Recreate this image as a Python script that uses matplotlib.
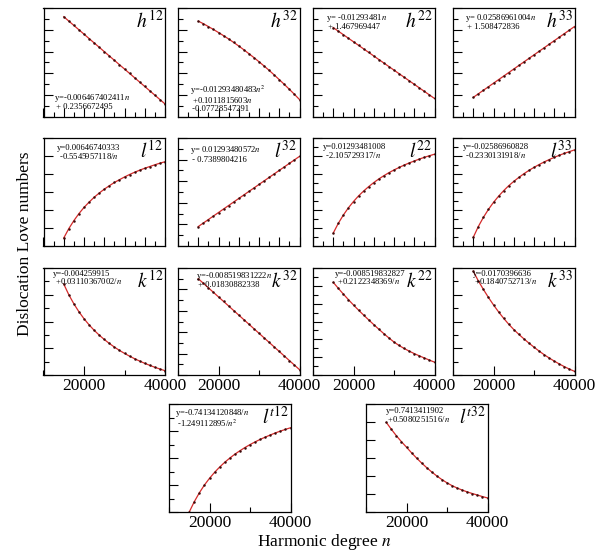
import matplotlib
matplotlib.use('Agg')
import matplotlib.pyplot as plt
from matplotlib.ticker import MultipleLocator, NullFormatter, NullLocator

plt.rcParams['font.family'] = ['Liberation Serif', 'DejaVu Serif']
plt.rcParams['mathtext.fontset'] = 'stix'

# harmonic degree of the sampled points
n_deg = [15000, 16250, 17500, 18750, 20000, 21250, 22500, 23750, 25000, 26250,
         27500, 28750, 30000, 31250, 32500, 33750, 35000, 36250, 37500, 38750, 40000]

# values (no y scale shown, so relative to each panel height)
h12 = [0.92, 0.88, 0.84, 0.80, 0.76, 0.72, 0.68, 0.64, 0.60, 0.56, 0.52,
       0.48, 0.44, 0.40, 0.36, 0.32, 0.28, 0.24, 0.20, 0.16, 0.12]
h32 = [0.880, 0.856, 0.830, 0.803, 0.775, 0.746, 0.716, 0.684, 0.651, 0.617, 0.581,
       0.545, 0.507, 0.468, 0.428, 0.386, 0.343, 0.299, 0.254, 0.208, 0.160]
h22 = [0.82, 0.7875, 0.755, 0.7225, 0.69, 0.6575, 0.625, 0.5925, 0.56, 0.5275, 0.495,
       0.4625, 0.43, 0.3975, 0.365, 0.3325, 0.30, 0.2675, 0.235, 0.2025, 0.17]
h33 = [0.18, 0.2125, 0.245, 0.2775, 0.31, 0.3425, 0.375, 0.4075, 0.44, 0.4725, 0.505,
       0.5375, 0.57, 0.6025, 0.635, 0.6675, 0.70, 0.7325, 0.765, 0.7975, 0.83]

l12 = [0.074, 0.161, 0.235, 0.300, 0.357, 0.406, 0.451, 0.490, 0.526, 0.558, 0.588,
       0.614, 0.639, 0.662, 0.683, 0.702, 0.720, 0.736, 0.752, 0.767, 0.780]
l32 = [0.18, 0.2125, 0.245, 0.2775, 0.31, 0.3425, 0.375, 0.4075, 0.44, 0.4725, 0.505,
       0.5375, 0.57, 0.6025, 0.635, 0.6675, 0.70, 0.7325, 0.765, 0.7975, 0.83]
l22 = [0.120, 0.210, 0.287, 0.354, 0.412, 0.464, 0.509, 0.550, 0.587, 0.621, 0.651,
       0.679, 0.704, 0.727, 0.749, 0.769, 0.787, 0.805, 0.821, 0.836, 0.850]
l33 = [0.080, 0.180, 0.265, 0.339, 0.404, 0.461, 0.512, 0.558, 0.598, 0.635, 0.669,
       0.700, 0.728, 0.754, 0.778, 0.800, 0.821, 0.840, 0.858, 0.874, 0.890]

k12 = [0.850, 0.750, 0.665, 0.591, 0.526, 0.469, 0.418, 0.373, 0.332, 0.295, 0.261,
       0.230, 0.202, 0.176, 0.152, 0.130, 0.109, 0.090, 0.072, 0.056, 0.040]
k32 = [0.90, 0.8575, 0.815, 0.7725, 0.73, 0.6875, 0.645, 0.6025, 0.56, 0.5175, 0.475,
       0.4325, 0.39, 0.3475, 0.305, 0.2625, 0.22, 0.1775, 0.135, 0.0925, 0.05]
k22 = [0.866, 0.810, 0.756, 0.704, 0.654, 0.606, 0.560, 0.515, 0.471, 0.428, 0.386,
       0.346, 0.308, 0.276, 0.248, 0.223, 0.200, 0.179, 0.159, 0.139, 0.120]
k33 = [0.970, 0.880, 0.800, 0.725, 0.655, 0.590, 0.530, 0.475, 0.425, 0.380, 0.338,
       0.298, 0.260, 0.224, 0.190, 0.159, 0.130, 0.103, 0.078, 0.055, 0.034]

lt12 = [0.000, 0.096, 0.178, 0.250, 0.312, 0.367, 0.416, 0.460, 0.499, 0.535, 0.567,
        0.597, 0.624, 0.649, 0.672, 0.693, 0.713, 0.732, 0.749, 0.765, 0.780]
lt32 = [0.830, 0.766, 0.706, 0.651, 0.600, 0.548, 0.499, 0.453, 0.410, 0.370, 0.333,
        0.300, 0.270, 0.244, 0.222, 0.203, 0.186, 0.171, 0.157, 0.143, 0.130]

names = [r'$h^{12}$', r'$h^{32}$', r'$h^{22}$', r'$h^{33}$',
         r'$l^{12}$', r'$l^{32}$', r'$l^{22}$', r'$l^{33}$',
         r'$k^{12}$', r'$k^{32}$', r'$k^{22}$', r'$k^{33}$',
         r'$l^{t12}$', r'$l^{t32}$']

fits = ['y=-0.006467402411$n$\n + 0.2356672495',
        'y=-0.01293480483$n^2$\n +0.1011815603$n$\n -0.07728547291',
        'y= -0.01293481$n$\n + 1.467969447',
        'y= 0.02586961004$n$\n + 1.508472836',
        'y=0.00646740333\n -0.5545957118/$n$',
        'y= 0.01293480572$n$\n - 0.7389804216',
        'y=0.01293481008\n -2.105729317/$n$',
        'y=-0.02586960828\n -0.2330131918/$n$',
        'y=-0.004259915\n +0.03110367002/$n$',
        'y=-0.008519831222$n$\n + 0.01830882338',
        'y=-0.008519832827\n +0.2122348369/$n$',
        'y=0.0170396636\n +0.1840752713/$n$',
        'y=-0.74134120848/$n$\n -1.249112895/$n^2$',
        'y=0.7413411902\n +0.5080251516/$n$']

series = [h12, h32, h22, h33, l12, l32, l22, l33, k12, k32, k22, k33, lt12, lt32]

# layout in pixels: left, top, height; text anchor; y tick steps (major, minor)
W, H = 600, 556
cols = [43.5, 178, 313, 453]
rows = [(8, 109), (138, 108), (268, 107)]
boxes = [(cols[c], rows[r][0], rows[r][1]) for r in range(3) for c in range(4)]
boxes += [(169, 404, 108), (366, 404, 108)]

fit_pos = [(0.09, 0.23), (0.10, 0.31), (0.11, 0.965), (0.10, 0.965),
           (0.11, 0.94), (0.10, 0.94), (0.08, 0.95), (0.08, 0.95),
           (0.08, 0.985), (0.15, 0.985), (0.18, 0.985), (0.16, 0.985),
           (0.05, 0.975), (0.16, 0.97)]

ysteps = [(0.2, 0.1), (0.2, 0.1), (0.2, 0.1), (0.2, 0.1),
          (1 / 6, None), (0.2, 0.1), (1 / 6, 1 / 12), (1 / 6, 1 / 12),
          (0.25, 0.125), (0.2, 0.1), (1 / 6, 1 / 12), (0.25, 0.125),
          (0.25, 0.125), (1 / 6, None)]

fig = plt.figure(figsize=(6, 5.56), dpi=100)

for i in range(14):
    x0, y0, h = boxes[i]
    ax = fig.add_axes([x0 / W, 1 - (y0 + h) / H, 121.5 / W, h / H])
    ax.plot(n_deg, series[i], color='#d42a2a', lw=0.9, marker='o', ms=1.8,
            mfc='#3a0a0a', mec='none', clip_on=True)
    ax.set_xlim(10000, 40000)
    ax.set_ylim(0, 1)

    if i >= 8:
        ax.xaxis.set_minor_locator(MultipleLocator(10000))
        ax.set_xticks([20000, 40000])
        ax.set_xticklabels(['20000', '40000'])
    else:
        ax.xaxis.set_major_locator(MultipleLocator(5000))
        ax.xaxis.set_minor_locator(MultipleLocator(2500))
        ax.xaxis.set_major_formatter(NullFormatter())

    major, minor = ysteps[i]
    ax.yaxis.set_major_locator(MultipleLocator(major))
    if minor:
        ax.yaxis.set_minor_locator(MultipleLocator(minor))
    else:
        ax.yaxis.set_minor_locator(NullLocator())
    ax.yaxis.set_major_formatter(NullFormatter())

    ax.tick_params(which='major', direction='in', length=6.5, width=0.8,
                   top=False, right=False, labelsize=12.5, pad=2)
    ax.tick_params(which='minor', direction='in', length=3.5, width=0.8,
                   top=False, right=False)
    for sp in ax.spines.values():
        sp.set_linewidth(0.9)

    ax.text(0.985, 0.985, names[i], transform=ax.transAxes, ha='right', va='top',
            fontsize=14)
    fx, fy = fit_pos[i]
    ax.text(fx, fy, fits[i], transform=ax.transAxes, ha='left', va='top',
            fontsize=6.2, linespacing=0.85)

fig.text(0.042, 0.562, 'Dislocation Love numbers', rotation=90, ha='center',
         va='center', fontsize=12.5)
fig.text(0.54, 0.025, 'Harmonic degree $n$', ha='center', va='center', fontsize=12.5)

fig.savefig('out.png', dpi=100)
